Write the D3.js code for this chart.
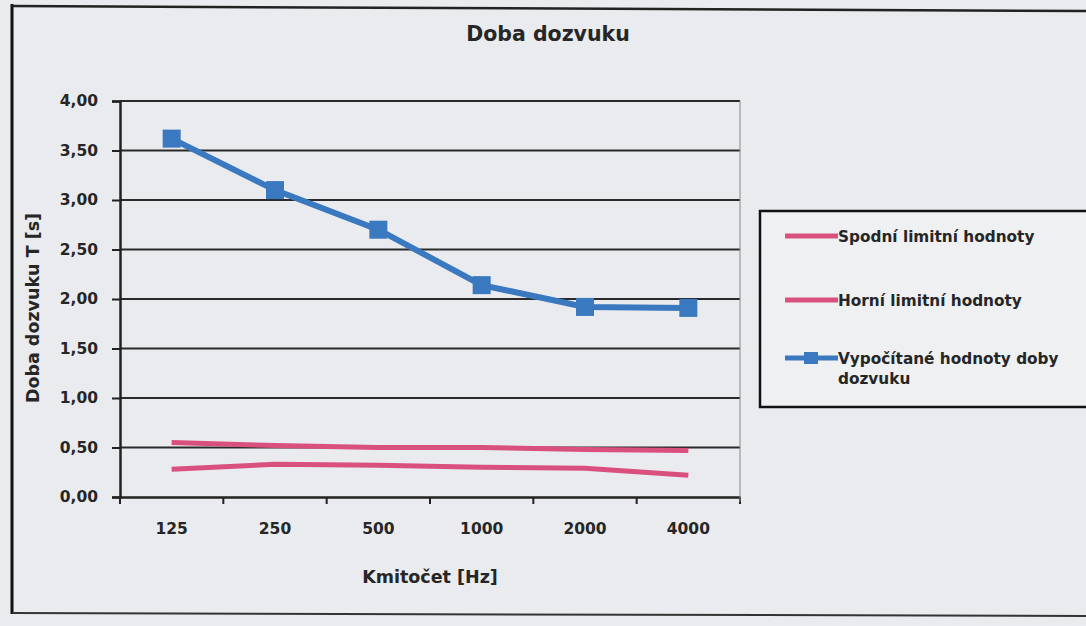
<!DOCTYPE html>
<html><head><meta charset="utf-8">
<script src="https://cdn.jsdelivr.net/npm/d3@7"></script>
<style>
html,body{margin:0;padding:0;background:#e9ebee;}
svg{display:block;font-family:"DejaVu Sans",sans-serif;}
</style></head>
<body><svg id="c" width="1086" height="626"></svg>
<script>
const categories = ["125","250","500","1000","2000","4000"];
const spodni = [0.28, 0.33, 0.32, 0.30, 0.29, 0.22];
const horni = [0.55, 0.52, 0.50, 0.50, 0.48, 0.47];
const vypocitane = [3.62, 3.10, 2.70, 2.14, 1.92, 1.91];
const yTicks = [0, 0.5, 1, 1.5, 2, 2.5, 3, 3.5, 4];
const seriesNames = ["Spodní limitní hodnoty","Horní limitní hodnoty","Vypočítané hodnoty doby dozvuku"];

const FONT = "DejaVu Sans, sans-serif";
const TXT = "#262626";
const svg = d3.select("#c");
const m = {l:120, r:740, t:101, b:497};
const x = d3.scaleBand().domain(categories).range([m.l, m.r]);
const y = d3.scaleLinear().domain([0,4]).range([m.b, m.t]);
const fmt = d => d3.format(".2f")(d).replace(".", ",");

// outer frame
svg.append("line").attr("x1",12).attr("x2",12).attr("y1",4).attr("y2",614).attr("stroke","#111").attr("stroke-width",3);
svg.append("line").attr("x1",12).attr("x2",1086).attr("y1",6).attr("y2",11).attr("stroke","#222").attr("stroke-width",2.5);
svg.append("line").attr("x1",12).attr("x2",1086).attr("y1",613).attr("y2",616).attr("stroke","#333").attr("stroke-width",2);

// title
svg.append("text").attr("x",548).attr("y",41).attr("text-anchor","middle")
  .attr("font-size",20.5).attr("font-weight","bold").attr("fill",TXT).text("Doba dozvuku");

// gridlines
svg.append("g").selectAll("line").data(yTicks.filter(d=>d>0)).join("line")
  .attr("x1",m.l).attr("x2",m.r).attr("y1",d=>y(d)).attr("y2",d=>y(d))
  .attr("stroke","#2a2a2a").attr("stroke-width",2);

// y axis
const ya = svg.append("g").attr("transform",`translate(${m.l},0)`)
  .call(d3.axisLeft(y).tickValues(yTicks).tickFormat(fmt).tickSize(8).tickPadding(14));
ya.select(".domain").attr("stroke","#222").attr("stroke-width",2.5);
ya.selectAll(".tick line").attr("stroke","#222").attr("stroke-width",2);
ya.selectAll(".tick text").attr("font-size",15.5).attr("font-weight","bold").attr("fill",TXT).attr("font-family",FONT);

// x axis
const xa = svg.append("g").attr("transform",`translate(0,${m.b})`)
  .call(d3.axisBottom(x).tickSize(0).tickPadding(26));
xa.select(".domain").attr("stroke","#222").attr("stroke-width",2.5);
xa.selectAll(".tick text").attr("font-size",15.5).attr("font-weight","bold").attr("fill",TXT).attr("font-family",FONT);
const bounds = categories.map(c=>x(c)).concat([m.r]);
xa.selectAll(".bt").data(bounds).join("line").attr("class","bt")
  .attr("x1",d=>d).attr("x2",d=>d).attr("y1",0).attr("y2",7).attr("stroke","#222").attr("stroke-width",2);
svg.append("line").attr("x1",m.r).attr("x2",m.r).attr("y1",m.t).attr("y2",m.b+5).attr("stroke","#888").attr("stroke-width",1);

// axis titles
svg.append("text").attr("transform",`translate(39,${(m.t+m.b)/2 + 9}) rotate(-90)`).attr("text-anchor","middle")
  .attr("font-size",17.5).attr("font-weight","bold").attr("fill",TXT).text("Doba dozvuku T [s]");
svg.append("text").attr("x",430).attr("y",583).attr("text-anchor","middle")
  .attr("font-size",17.5).attr("font-weight","bold").attr("fill",TXT).text("Kmitočet [Hz]");

const cx = c => x(c) + x.bandwidth()/2;
const line = d3.line().x(d=>cx(d[0])).y(d=>y(d[1]));
const pink = "#d9507f", blue = "#3a78bf";

svg.append("path").datum(categories.map((c,i)=>[c,horni[i]])).attr("d",line)
  .attr("fill","none").attr("stroke",pink).attr("stroke-width",5);
svg.append("path").datum(categories.map((c,i)=>[c,spodni[i]])).attr("d",line)
  .attr("fill","none").attr("stroke",pink).attr("stroke-width",5);
svg.append("path").datum(categories.map((c,i)=>[c,vypocitane[i]])).attr("d",line)
  .attr("fill","none").attr("stroke",blue).attr("stroke-width",6);
svg.append("g").selectAll("rect").data(categories.map((c,i)=>[c,vypocitane[i]])).join("rect")
  .attr("x",d=>cx(d[0])-9).attr("y",d=>y(d[1])-9).attr("width",18).attr("height",18).attr("fill",blue);

// legend
const lg = svg.append("g");
lg.append("rect").attr("x",760).attr("y",211).attr("width",340).attr("height",196)
  .attr("fill","#eef0f2").attr("stroke","#111").attr("stroke-width",2.5);
const items = [
  {color:pink, y:236, marker:false},
  {color:pink, y:300, marker:false},
  {color:blue, y:358, marker:true}
];
items.forEach(it=>{
  lg.append("line").attr("x1",785).attr("x2",838).attr("y1",it.y).attr("y2",it.y).attr("stroke",it.color).attr("stroke-width",5);
  if(it.marker) lg.append("rect").attr("x",804).attr("y",it.y-6).attr("width",14).attr("height",12).attr("fill",it.color);
});
const LFS = 15.3;
const lt = (t,yy)=>lg.append("text").attr("x",838).attr("y",yy).attr("font-size",LFS).attr("font-weight","bold")
  .attr("fill",TXT).attr("font-family",FONT).text(t);
lt(seriesNames[0],242);
lt(seriesNames[1],306);
const t3 = lg.append("text").attr("x",838).attr("y",364).attr("font-size",LFS).attr("font-weight","bold").attr("fill",TXT);
t3.append("tspan").attr("x",838).text("Vypočítané hodnoty doby");
t3.append("tspan").attr("x",838).attr("dy",20).text("dozvuku");
</script></body></html>
